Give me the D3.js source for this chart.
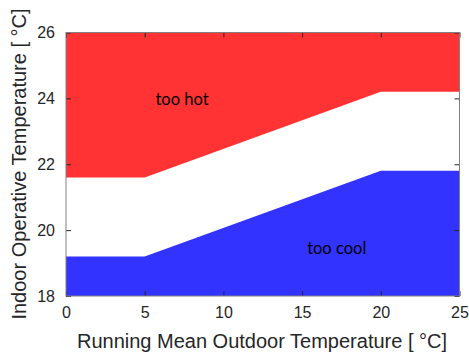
<!DOCTYPE html>
<html>
<head>
<meta charset="utf-8">
<script src="https://cdn.jsdelivr.net/npm/d3@7"></script>
<style>
	body { margin: 0; background: #fff; }
	svg { display: block; }
</style>
</head>
<body>
<div id="graph"></div>
<script>
// band limits (adaptive comfort), x = running mean outdoor temp
var outdoorTemp = [0, 5, 20, 25];
var upperLimit = [21.6, 21.6, 24.2, 24.2];
var lowerLimit = [19.2, 19.2, 21.8, 21.8];
var xTicks = [0, 5, 10, 15, 20, 25];
var yTicks = [18, 20, 22, 24, 26];
var labels = [
	{text: "too hot", x: 7.37, y: 23.8},
	{text: "too cool", x: 17.2, y: 19.28}
];

var w = 469, h = 356;
var margin = {left: 66, right: 9.5, top: 32.5, bottom: 60};

var svg = d3.select("#graph").append("svg")
	.attr("width", w).attr("height", h);

var x = d3.scaleLinear().domain([0, 25]).range([margin.left, w - margin.right]);
var y = d3.scaleLinear().domain([18, 26]).range([h - margin.bottom, margin.top]);

var pts = outdoorTemp.map(function (t, i) {
	return {x: t, up: upperLimit[i], lo: lowerLimit[i]};
});

// red area: from upper limit to top
svg.append("path").datum(pts)
	.attr("fill", "#ff3333")
	.attr("d", d3.area().x(function (d) { return x(d.x); })
		.y0(function () { return y(26); })
		.y1(function (d) { return y(d.up); }));

// blue area: from bottom to lower limit
svg.append("path").datum(pts)
	.attr("fill", "#3333ff")
	.attr("d", d3.area().x(function (d) { return x(d.x); })
		.y0(function () { return y(18); })
		.y1(function (d) { return y(d.lo); }));

labels.forEach(function (l) {
	svg.append("text").attr("x", x(l.x)).attr("y", y(l.y))
		.attr("text-anchor", "middle")
		.attr("font-family", "Lato, 'Open Sans', sans-serif")
		.attr("font-size", 16.5).attr("fill", "#000")
		.text(l.text);
});

var axisColor = "#262626";
var fontFam = "'Liberation Sans', Arial, sans-serif";

function styleAxis(g, showText) {
	g.select(".domain").remove();
	g.selectAll(".tick line").attr("stroke", axisColor);
	g.selectAll(".tick text").attr("fill", axisColor)
		.attr("font-family", fontFam).attr("font-size", 16)
		.style("display", showText ? null : "none");
}

svg.append("g").attr("transform", "translate(0," + y(18) + ")")
	.call(d3.axisBottom(x).tickValues(xTicks).tickSize(-5).tickPadding(11))
	.call(function (g) { styleAxis(g, true); });
svg.append("g").attr("transform", "translate(0," + y(26) + ")")
	.call(d3.axisTop(x).tickValues(xTicks).tickSize(-5))
	.call(function (g) { styleAxis(g, false); });
svg.append("g").attr("transform", "translate(" + x(0) + ",0)")
	.call(d3.axisLeft(y).tickValues(yTicks).tickSize(-5).tickPadding(11))
	.call(function (g) { styleAxis(g, true); });
svg.append("g").attr("transform", "translate(" + x(25) + ",0)")
	.call(d3.axisRight(y).tickValues(yTicks).tickSize(-5))
	.call(function (g) { styleAxis(g, false); });

// box
svg.append("rect")
	.attr("x", x(0)).attr("y", y(26))
	.attr("width", x(25) - x(0)).attr("height", y(18) - y(26))
	.attr("fill", "none").attr("stroke", "#808080").attr("stroke-width", 1);

svg.append("text")
	.attr("x", 262).attr("y", 348)
	.attr("text-anchor", "middle")
	.attr("font-family", fontFam).attr("font-size", 20).attr("fill", axisColor)
	.text("Running Mean Outdoor Temperature [ °C]");

svg.append("text")
	.attr("transform", "translate(26,164) rotate(-90)")
	.attr("text-anchor", "middle")
	.attr("font-family", fontFam).attr("font-size", 20).attr("fill", axisColor)
	.text("Indoor Operative Temperature [ °C]");
</script>
</body>
</html>
